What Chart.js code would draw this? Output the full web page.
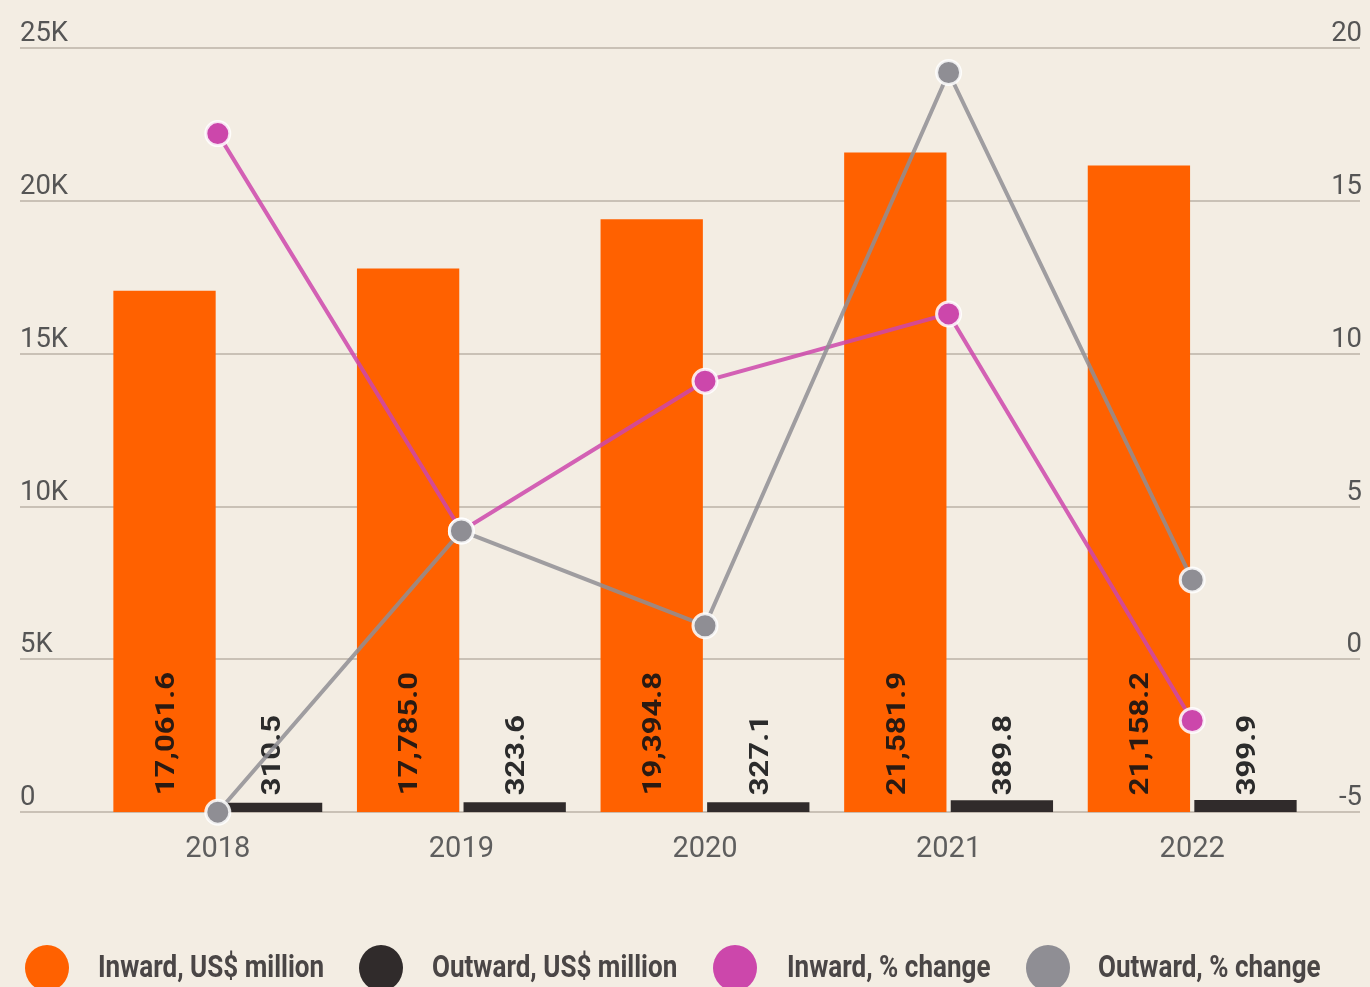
<!DOCTYPE html>
<html>
<head>
<meta charset="utf-8">
<title>Remittances, inward and outward</title>
<script src="https://cdn.jsdelivr.net/npm/chart.js@4.4.1/dist/chart.umd.min.js"></script>
<style>
  html, body { margin: 0; padding: 0; background: #f3ede3; }
  #wrap { width: 1370px; height: 987px; position: relative; }
</style>
</head>
<body>
<div id="wrap"><canvas id="chart"></canvas></div>
<script>
// Years on the category axis
const categories = ['2018', '2019', '2020', '2021', '2022'];

// Remittance amounts, US$ million (left axis)
const inwardUsd = [17061.6, 17785.0, 19394.8, 21581.9, 21158.2];
const outwardUsd = [310.5, 323.6, 327.1, 389.8, 399.9];

// Year-on-year change, % (right axis)
const inwardPct = [17.2, 4.2, 9.1, 11.3, -2.0];
const outwardPct = [-5.0, 4.2, 1.1, 19.2, 2.6];

// Axis tick values and their labels
const leftTicks = [0, 5000, 10000, 15000, 20000, 25000];
const leftTickLabels = ['0', '5K', '10K', '15K', '20K', '25K'];
const rightTicks = [-5, 0, 5, 10, 15, 20];
const rightTickLabels = ['-5', '0', '5', '10', '15', '20'];

const COLORS = {
  bg: '#f3ede3',
  inward: '#ff6100',
  outward: '#302b2b',
  inwardPct: '#cc47ab',
  outwardPct: '#8f8e94',
  grid: '#c9c1b6',
  tick: '#555555',
  legend: '#4a4646'
};

const FONT = 'Roboto, "Liberation Sans", sans-serif';

// Paper background
const backgroundPlugin = {
  id: 'paper',
  beforeDraw(chart) {
    const ctx = chart.ctx;
    ctx.save();
    ctx.fillStyle = COLORS.bg;
    ctx.fillRect(0, 0, chart.width, chart.height);
    ctx.restore();
  }
};

// Full-width horizontal rules with labels sitting on top of them
const gridPlugin = {
  id: 'fullGrid',
  beforeDatasetsDraw(chart) {
    const ctx = chart.ctx;
    const y = chart.scales.y;
    const y1 = chart.scales.y1;
    ctx.save();
    ctx.strokeStyle = COLORS.grid;
    ctx.lineWidth = 2;
    leftTicks.forEach((v) => {
      const py = Math.round(y.getPixelForValue(v));
      ctx.beginPath();
      ctx.moveTo(20, py);
      ctx.lineTo(1360, py);
      ctx.stroke();
    });
    ctx.fillStyle = COLORS.tick;
    ctx.font = '28px ' + FONT;
    ctx.textBaseline = 'alphabetic';
    leftTicks.forEach((v, i) => {
      const py = y.getPixelForValue(v);
      ctx.save();
      ctx.translate(20, py - 7);
      ctx.scale(0.98, 1);
      ctx.textAlign = 'left';
      ctx.fillText(leftTickLabels[i], 0, 0);
      ctx.restore();
    });
    rightTicks.forEach((v, i) => {
      const py = y1.getPixelForValue(v);
      ctx.save();
      ctx.translate(1362, py - 7);
      ctx.scale(0.98, 1);
      ctx.textAlign = 'right';
      ctx.fillText(rightTickLabels[i], 0, 0);
      ctx.restore();
    });
    ctx.restore();
  }
};

// Rotated value labels at the foot of each bar
const barLabelPlugin = {
  id: 'barLabels',
  afterDatasetDraw(chart, args) {
    const ds = chart.data.datasets[args.index];
    if (ds.type === 'line') return;
    const meta = args.meta;
    const ctx = chart.ctx;
    const base = chart.scales.y.getPixelForValue(0);
    ctx.save();
    ctx.fillStyle = ds.labelColor;
    ctx.font = 'bold 31px ' + FONT;
    ctx.textAlign = 'left';
    ctx.textBaseline = 'middle';
    meta.data.forEach((bar, i) => {
      const v = ds.data[i];
      const txt = v.toLocaleString('en-US', { minimumFractionDigits: 1, maximumFractionDigits: 1 });
      ctx.save();
      ctx.translate(bar.x + 3, base - 17);
      ctx.scale(0.82, 1);
      ctx.rotate(-Math.PI / 2);
      ctx.fillText(txt, 0, 0);
      ctx.restore();
    });
    ctx.restore();
  }
};

// Legend row along the bottom edge
const legendPlugin = {
  id: 'bottomLegend',
  afterDraw(chart) {
    const ctx = chart.ctx;
    const items = [
      { label: 'Inward, US$ million', color: COLORS.inward, cx: 47, tx: 98 },
      { label: 'Outward, US$ million', color: COLORS.outward, cx: 381, tx: 432 },
      { label: 'Inward, % change', color: COLORS.inwardPct, cx: 735, tx: 787 },
      { label: 'Outward, % change', color: COLORS.outwardPct, cx: 1048, tx: 1098 }
    ];
    const cy = 968;
    ctx.save();
    items.forEach(it => {
      ctx.beginPath();
      ctx.ellipse(it.cx, cy, 22, 23, 0, 0, Math.PI * 2);
      ctx.fillStyle = it.color;
      ctx.fill();
      ctx.save();
      ctx.translate(it.tx, cy);
      ctx.scale(0.84, 1);
      ctx.fillStyle = COLORS.legend;
      ctx.font = 'bold 31px ' + FONT;
      ctx.textAlign = 'left';
      ctx.textBaseline = 'middle';
      ctx.fillText(it.label, 0, 1);
      ctx.restore();
    });
    ctx.restore();
  }
};

const pointStyle = (color, stroke) => ({
  borderColor: stroke,
  backgroundColor: color,
  pointBackgroundColor: color,
  pointBorderColor: 'rgba(255,255,255,0.85)',
  pointBorderWidth: 3,
  pointRadius: 12,
  pointHoverRadius: 12,
  borderWidth: 4,
  tension: 0,
  clip: false
});

new Chart(document.getElementById('chart'), {
  type: 'bar',
  data: {
    labels: categories,
    datasets: [
      Object.assign({
        type: 'line',
        label: 'Outward, % change',
        data: outwardPct,
        yAxisID: 'y1',
        order: 0
      }, pointStyle(COLORS.outwardPct, 'rgba(143,142,148,0.85)')),
      Object.assign({
        type: 'line',
        label: 'Inward, % change',
        data: inwardPct,
        yAxisID: 'y1',
        order: 1
      }, pointStyle(COLORS.inwardPct, 'rgba(204,71,171,0.85)')),
      {
        label: 'Inward, US$ million',
        data: inwardUsd,
        backgroundColor: COLORS.inward,
        labelColor: '#2a1a12',
        yAxisID: 'y',
        order: 2,
        barPercentage: 0.96,
        categoryPercentage: 0.875
      },
      {
        label: 'Outward, US$ million',
        data: outwardUsd,
        backgroundColor: COLORS.outward,
        labelColor: '#2b2b2b',
        yAxisID: 'y',
        order: 3,
        barPercentage: 0.96,
        categoryPercentage: 0.875
      }
    ]
  },
  options: {
    responsive: true,
    maintainAspectRatio: false,
    animation: false,
    layout: { padding: { left: 96, right: 56, top: 48, bottom: 100 } },
    plugins: {
      legend: { display: false },
      tooltip: { enabled: false }
    },
    scales: {
      x: {
        grid: { display: false, drawTicks: false },
        border: { display: false },
        ticks: {
          color: '#5e5e5e',
          font: { family: FONT, size: 29 },
          padding: 20,
          maxRotation: 0
        }
      },
      y: {
        display: false,
        position: 'left',
        min: 0,
        max: 25000,
        ticks: { stepSize: 5000 }
      },
      y1: {
        display: false,
        position: 'right',
        min: -5,
        max: 20,
        ticks: { stepSize: 5 }
      }
    }
  },
  plugins: [backgroundPlugin, gridPlugin, barLabelPlugin, legendPlugin]
});
</script>
</body>
</html>
